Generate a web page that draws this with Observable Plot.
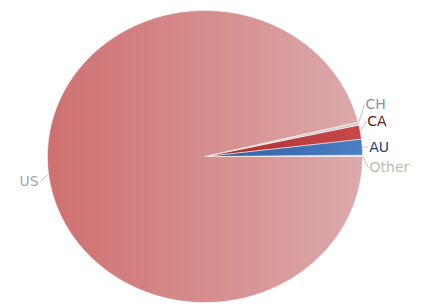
<!DOCTYPE html>
<html><head><meta charset="utf-8">
<script src="https://cdn.jsdelivr.net/npm/d3@7"></script>
<script src="https://cdn.jsdelivr.net/npm/@observablehq/plot@0.6"></script>
<style>body{margin:0;background:#fff;}</style>
</head><body><div id="chart"></div>
<script>
// Data (percent share, counter-clockwise from 3 o'clock)
const countries = ["Other", "AU", "CA", "CH", "US"];
const shares = [0.15, 1.75, 1.55, 0.35, 96.2];
const sliceColors = ["#ddd6bd", "url(#gAU)", "url(#gCA)", "#d4d0cc", "url(#gUS)"];
const labelColors = ["#babdaa", "#24406e", "#5a1c1c", "#7f93b3", "#a6a6a6"];
// label vertical nudges (px) to avoid overlaps
const labelNudge = {Other: 12, AU: 0, CA: -11, CH: -19, US: 8};

const W = 422, H = 306;
const cx = 204.5, cy = 156, rx = 157.5, ry = 146;
const total = d3.sum(shares);

let a0 = 0;
const slices = countries.map((c, i) => {
  const start = a0, end = a0 + shares[i] / total * 2 * Math.PI;
  a0 = end;
  return {name: c, start, end, mid: (start + end) / 2, fill: sliceColors[i], label: labelColors[i]};
});

const points = [];
for (const s of slices) {
  const n = Math.max(2, Math.ceil((s.end - s.start) / 0.01));
  points.push({name: s.name, x: 0, y: 0});
  for (let k = 0; k <= n; k++) {
    const a = s.start + (s.end - s.start) * k / n;
    points.push({name: s.name, x: Math.cos(a), y: Math.sin(a)});
  }
  points.push({name: s.name, x: 0, y: 0});
}

const labels = slices.map(s => {
  const ex = Math.cos(s.mid), ey = Math.sin(s.mid);
  const right = ex >= 0;
  const ly = ey - labelNudge[s.name] / ry;
  const lx = ex + (right ? 6 : -9) / rx;
  return {name: s.name, ex, ey, lx, ly, right, color: s.label};
});

const marks = slices.map(s => Plot.line(points.filter(p => p.name === s.name), {
  x: "x", y: "y", fill: s.fill, stroke: "#ffffff", strokeOpacity: 0.6, strokeWidth: 0.8, curve: "linear"
}));

marks.push(Plot.link(labels, {x1: "ex", y1: "ey", x2: "lx", y2: "ly", stroke: "#c4c4c4", strokeWidth: 1}));
for (const l of labels) {
  marks.push(Plot.text([l], {
    x: "lx", y: "ly", text: "name", fill: l.color,
    textAnchor: l.right ? "start" : "end",
    dx: l.right ? 1 : -1,
    fontSize: 14, fontFamily: "DejaVu Sans"
  }));
}

const chart = Plot.plot({
  width: W, height: H, margin: 0,
  x: {domain: [-cx / rx, (W - cx) / rx], range: [0, W], axis: null},
  y: {domain: [-(H - cy) / ry, cy / ry], range: [H, 0], axis: null},
  style: {background: "#fff", overflow: "visible"},
  marks
});

const svg = d3.select(chart);
const defs = svg.insert("defs", ":first-child");
function grad(id, c1, c2) {
  const g = defs.append("linearGradient").attr("id", id).attr("x1", "0").attr("x2", "1").attr("y1", "0").attr("y2", "0");
  g.append("stop").attr("offset", "0").attr("stop-color", c1);
  g.append("stop").attr("offset", "1").attr("stop-color", c2);
}
grad("gUS", "#cf7070", "#dcaaaa");
grad("gAU", "#2f5e9e", "#4a80c4");
grad("gCA", "#a83030", "#c84848");
document.getElementById("chart").appendChild(chart);
</script>
</body></html>
